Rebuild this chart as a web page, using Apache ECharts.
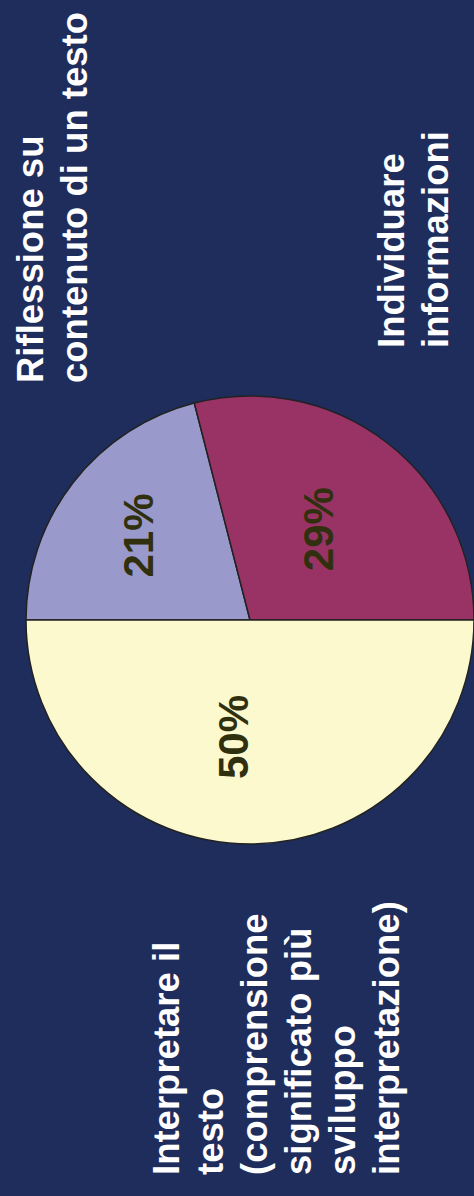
<!DOCTYPE html>
<html>
<head>
<meta charset="utf-8">
<script src="https://cdn.jsdelivr.net/npm/echarts@6/dist/echarts.min.js"></script>
<style>
html,body{margin:0;padding:0;background:#1f2d5c;}
#chart{width:474px;height:1196px;}
</style>
</head>
<body>
<div id="chart"></div>
<script>
// Data
var categories = ['Riflessione su contenuto di un testo', 'Individuare informazioni', 'Interpretare il testo (comprensione significato più sviluppo interpretazione)'];
var values = [21, 29, 50];
var categoryLabels = ['Riflessione su\ncontenuto di un testo', 'Individuare\ninformazioni', 'Interpretare il\ntesto\n(comprensione\nsignificato più\nsviluppo\ninterpretazione)'];
var colors = ['#9999cc', '#993366', '#fcf9cf'];

// Presentation (label offsets are in the rotated label frame)
var labelAnchors = [[8, 383], [369, 348], [144, 1175]];
var labelShift = [[14, -21], [0, -2], [-2, -17]];
var fontFam = '"Liberation Sans", Arial, Helvetica, sans-serif';

var chart = echarts.init(document.getElementById('chart'), null, {renderer: 'svg'});
chart.setOption({
  backgroundColor: '#1f2d5c',
  animation: false,
  series: [{
    type: 'pie',
    center: [250, 620],
    radius: 224,
    startAngle: 180,
    clockwise: true,
    silent: true,
    data: categories.map(function (c, i) {
      return {name: c, value: values[i], itemStyle: {color: colors[i]}};
    }),
    itemStyle: {borderColor: '#222222', borderWidth: 1.5},
    label: {
      show: true,
      position: 'inside',
      rotate: 90,
      formatter: function (p) { return Math.round(p.percent) + '%'; },
      fontFamily: fontFam,
      fontWeight: 'bold',
      fontSize: 42,
      color: '#30300f'
    },
    labelLine: {show: false},
    labelLayout: function (p) {
      return {dx: labelShift[p.dataIndex][0], dy: labelShift[p.dataIndex][1]};
    },
    emphasis: {disabled: true}
  }],
  graphic: categoryLabels.map(function (t, i) {
    return {
      type: 'text',
      x: labelAnchors[i][0],
      y: labelAnchors[i][1],
      rotation: Math.PI / 2,
      silent: true,
      style: {
        text: t,
        fill: '#ffffff',
        font: 'bold 36.5px ' + fontFam,
        lineHeight: 44,
        align: 'left',
        verticalAlign: 'top',
        textAlign: 'left',
        textVerticalAlign: 'top'
      }
    };
  })
});
</script>
</body>
</html>
